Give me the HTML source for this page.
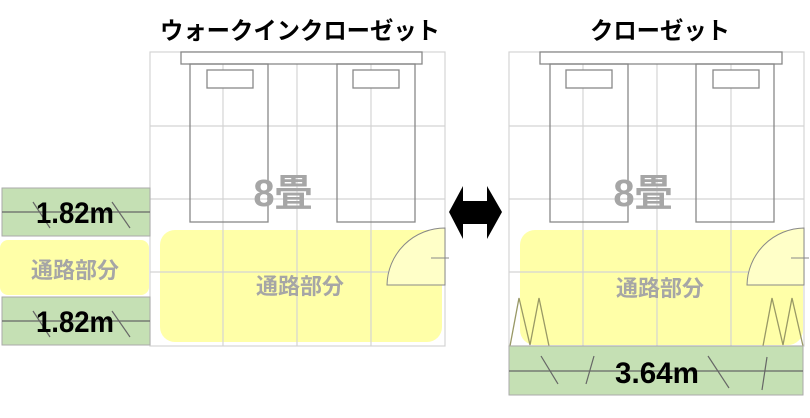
<!DOCTYPE html>
<html><head><meta charset="utf-8"><style>
body{margin:0;background:#fff;width:810px;height:413px;overflow:hidden}
</style></head><body>
<svg width="810" height="413" xmlns="http://www.w3.org/2000/svg" font-family="'Liberation Sans','Noto Sans CJK JP',sans-serif" font-weight="bold">
<text x="300" y="39" font-size="24" text-anchor="middle" fill="#000" textLength="280" lengthAdjust="spacingAndGlyphs">ウォークインクローゼット</text>
<text x="660" y="39" font-size="24" text-anchor="middle" fill="#000" textLength="140" lengthAdjust="spacingAndGlyphs">クローゼット</text>

<!-- LEFT ROOM -->
<g>
<rect x="160" y="230" width="282" height="112" rx="15" fill="#ffffa8"/>
<g stroke="#d4d4d4" stroke-width="1.2" fill="none">
<rect x="150" y="52" width="295" height="294"/>
<line x1="223" y1="52" x2="223" y2="346"/><line x1="297" y1="52" x2="297" y2="346"/><line x1="371" y1="52" x2="371" y2="346"/>
<line x1="150" y1="126" x2="445" y2="126"/><line x1="150" y1="199" x2="445" y2="199"/><line x1="150" y1="272" x2="445" y2="272"/>
</g>
<g stroke="#888" stroke-width="1.3" fill="none">
<rect x="181" y="52" width="241" height="12" fill="#fff"/>
<rect x="190" y="64" width="78" height="158"/><rect x="337" y="64" width="78" height="158"/>
<rect x="207" y="70" width="46" height="18" fill="#fff"/><rect x="353" y="70" width="46" height="18" fill="#fff"/>
<path d="M387 285 A58 58 0 0 1 445 228 L445 285 Z" fill="#ffffc8" stroke-width="1"/>
<line x1="431" y1="258" x2="449" y2="258" stroke-width="1"/>
</g>
<text x="283" y="206" font-size="38" text-anchor="middle" fill="#a6a6a6">8畳</text>
<text x="300" y="294" font-size="22" text-anchor="middle" fill="#a6a6a6">通路部分</text>

<rect x="2" y="188" width="148" height="48" fill="#c5e0b4" stroke="#aaa"/>
<rect x="0" y="240" width="149" height="55" rx="8" fill="#ffffa8"/>
<rect x="2" y="297" width="148" height="48" fill="#c5e0b4" stroke="#aaa"/>
<g stroke="#666" stroke-width="1.2">
<line x1="2" y1="212" x2="150" y2="212"/><line x1="33" y1="202" x2="50" y2="228"/><line x1="112" y1="202" x2="130" y2="228"/>
<line x1="2" y1="321" x2="150" y2="321"/><line x1="33" y1="311" x2="50" y2="337"/><line x1="112" y1="311" x2="130" y2="337"/>
</g>
<text x="75" y="223" font-size="30" text-anchor="middle" fill="#000" textLength="78" lengthAdjust="spacingAndGlyphs">1.82m</text>
<text x="75" y="332" font-size="30" text-anchor="middle" fill="#000" textLength="78" lengthAdjust="spacingAndGlyphs">1.82m</text>
<text x="75" y="278" font-size="22" text-anchor="middle" fill="#a6a6a6">通路部分</text>
</g>

<!-- ARROW -->
<polygon points="449,212 463,186 463,201 487,201 487,186 502,212 487,239 487,224 463,224 463,239" fill="#000"/>

<!-- RIGHT ROOM -->
<g>
<rect x="520" y="230" width="283" height="115" rx="15" fill="#ffffa8"/>
<g stroke="#d4d4d4" stroke-width="1.2" fill="none">
<rect x="509" y="52" width="295" height="294"/>
<line x1="583" y1="52" x2="583" y2="346"/><line x1="657" y1="52" x2="657" y2="346"/><line x1="731" y1="52" x2="731" y2="346"/>
<line x1="509" y1="126" x2="804" y2="126"/><line x1="509" y1="199" x2="804" y2="199"/><line x1="509" y1="272" x2="804" y2="272"/>
</g>
<g stroke="#888" stroke-width="1.3" fill="none">
<rect x="540" y="52" width="242" height="12" fill="#fff"/>
<rect x="550" y="64" width="78" height="158"/><rect x="696" y="64" width="78" height="158"/>
<rect x="566" y="70" width="46" height="18" fill="#fff"/><rect x="713" y="70" width="46" height="18" fill="#fff"/>
<path d="M747 285 A58 58 0 0 1 804 228 L804 285 Z" fill="#ffffc8" stroke-width="1"/>
<line x1="791" y1="258" x2="809" y2="258" stroke-width="1"/>
</g>
<g stroke="#999966" stroke-width="1.3" fill="none">
<polyline points="510,346 519,298 530,345 539,298 549,346"/>
<polyline points="763,346 772,298 783,345 792,298 803,346"/>
</g>
<text x="643" y="206" font-size="38" text-anchor="middle" fill="#a6a6a6">8畳</text>
<text x="660" y="296" font-size="22" text-anchor="middle" fill="#a6a6a6">通路部分</text>
<rect x="509" y="346" width="294" height="49" fill="#c5e0b4" stroke="#aaa"/>
<g stroke="#666" stroke-width="1.2">
<line x1="509" y1="371" x2="803" y2="371"/>
<line x1="541" y1="356" x2="558" y2="384"/><line x1="594" y1="356" x2="586" y2="384"/>
<line x1="708" y1="356" x2="729" y2="388"/><line x1="767" y1="357" x2="762" y2="390"/>
</g>
<text x="657" y="383" font-size="30" text-anchor="middle" fill="#000" textLength="84" lengthAdjust="spacingAndGlyphs">3.64m</text>
</g>
</svg>
</body></html>
